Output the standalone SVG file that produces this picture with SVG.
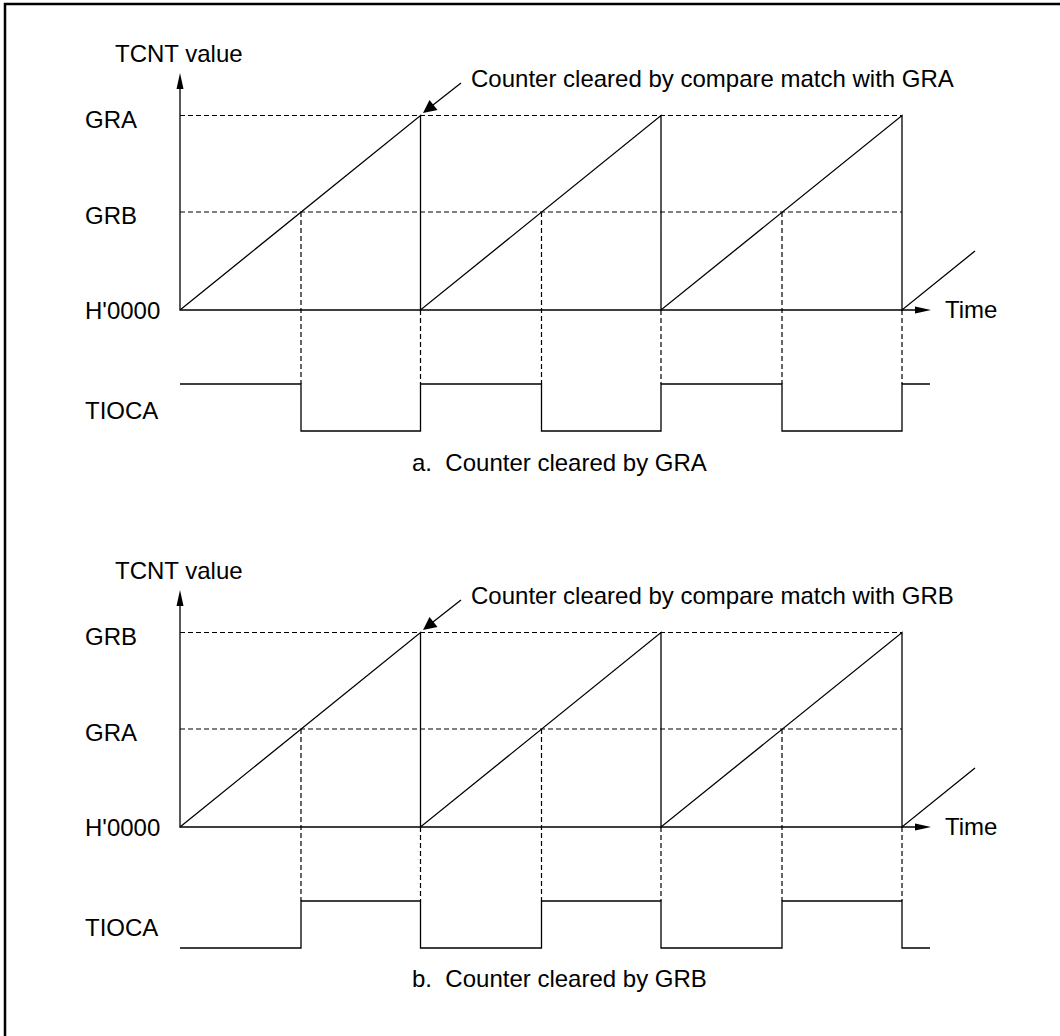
<svg xmlns="http://www.w3.org/2000/svg" width="1060" height="1036" viewBox="0 0 1060 1036">
<style>
text{font-family:"Liberation Sans",Arial,sans-serif;font-size:24px;fill:#000}
.s{fill:none;stroke:#000;stroke-width:1.3}
.d{fill:none;stroke:#000;stroke-width:1.2;stroke-dasharray:5 3}
.ah{fill:#000;stroke:none}
</style>
<rect x="0" y="0" width="1060" height="1036" fill="#fff"/>
<path d="M5,1036 V4 H1060" fill="none" stroke="#000" stroke-width="2.5"/>
<defs>
<g id="axes">
<path class="d" d="M180,115.5 H902 M180,212 H902 M301,212 V384 M541.5,212 V384 M782,212 V384 M420.5,310 V384 M661,310 V384 M902,310 V384"/>
<path class="s" d="M180,88 V310 H915"/>
<polygon class="ah" points="180,73 176.5,89 183.5,89"/>
<polygon class="ah" points="931,310 915,306.5 915,313.5"/>
<path class="s" d="M180,310 L420.5,115.5 V310 L661,115.5 V310 L902,115.5 V310 L975,251"/>
<path class="s" d="M461,83 L433,105"/>
<polygon class="ah" points="423,113 429.5,100 437.5,110"/>
</g>
</defs>
<g id="chart-a">
<use href="#axes"/>
<text x="115" y="62">TCNT value</text>
<text x="85" y="128">GRA</text>
<text x="85" y="224">GRB</text>
<text x="85" y="319">H'0000</text>
<text x="945" y="318">Time</text>
<text x="85" y="419">TIOCA</text>
<text x="471" y="87">Counter cleared by compare match with GRA</text>
<path class="s" d="M180,384 H301 V431 H420.5 V384 H541.5 V431 H661 V384 H782 V431 H902 V384 H930"/>
<text x="412" y="471" xml:space="preserve">a.  Counter cleared by GRA</text>
</g>
<g id="chart-b" transform="translate(0,517)">
<use href="#axes"/>
<text x="115" y="62">TCNT value</text>
<text x="85" y="128">GRB</text>
<text x="85" y="224">GRA</text>
<text x="85" y="319">H'0000</text>
<text x="945" y="318">Time</text>
<text x="85" y="419">TIOCA</text>
<text x="471" y="87">Counter cleared by compare match with GRB</text>
<path class="s" d="M180,431 H301 V384 H420.5 V431 H541.5 V384 H661 V431 H782 V384 H902 V431 H930"/>
<text x="412" y="470" xml:space="preserve">b.  Counter cleared by GRB</text>
</g>
</svg>
